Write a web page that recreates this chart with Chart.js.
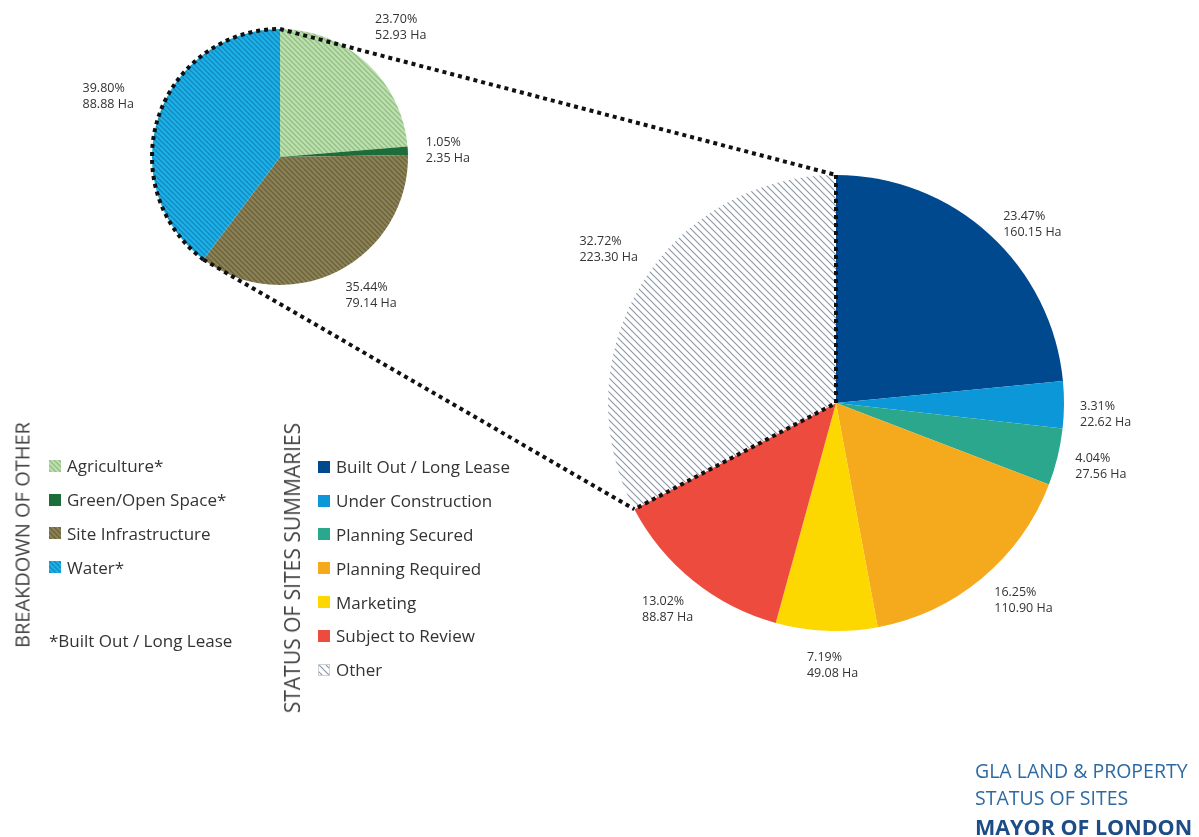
<!DOCTYPE html>
<html>
<head>
<meta charset="utf-8">
<script src="https://cdn.jsdelivr.net/npm/chart.js@4.4.1/dist/chart.umd.min.js"></script>
<style>
  body { margin: 0; background: #fff; font-family: "Open Sans", sans-serif; color: #333; }
  #page { position: relative; width: 1199px; height: 837px; overflow: hidden; }
  canvas.full { position: absolute; left: 0; top: 0; }
  .vtitle { position: absolute; transform: translate(-50%, -50%) rotate(-90deg); white-space: nowrap; font-size: 20px; color: #444; }
  .legend { position: absolute; }
  .row { display: flex; align-items: center; height: 33.8px; font-size: 17px; white-space: nowrap; }
  .row canvas { margin-right: 6px; }
  .note { position: absolute; font-size: 17px; white-space: nowrap; }
  #footer { position: absolute; left: 975px; top: 757px; font-size: 19.5px; line-height: 27px; color: #2d6aa3; white-space: nowrap; }
  #footer b { color: #1d4c86; display: block; margin-top: 2px; font-size: 21.5px; }
</style>
</head>
<body>
<div id="page">
  <canvas id="small" class="full" width="1199" height="837"></canvas>
  <canvas id="big" class="full" width="1199" height="837"></canvas>
  <div class="vtitle" style="left:22px; top:535px;">BREAKDOWN OF OTHER</div>
  <div class="vtitle" style="left:292px; top:568px; font-size:21px;">STATUS OF SITES SUMMARIES</div>
  <div class="legend" id="legOther" style="left:49px; top:449px;"></div>
  <div class="note" style="left:49px; top:629px;">*Built Out / Long Lease</div>
  <div class="legend" id="legBig" style="left:318px; top:450px;"></div>
  <div id="footer">GLA LAND &amp; PROPERTY<br>STATUS OF SITES<b>MAYOR OF LONDON</b></div>
</div>
<script>
// data
const bigLabels = ['Built Out / Long Lease', 'Under Construction', 'Planning Secured', 'Planning Required', 'Marketing', 'Subject to Review', 'Other'];
const bigValues = [160.15, 22.62, 27.56, 110.90, 49.08, 88.87, 223.30];
const otherLabels = ['Agriculture*', 'Green/Open Space*', 'Site Infrastructure', 'Water*'];
const otherValues = [52.93, 2.35, 79.14, 88.88];

Chart.defaults.font.family = '"Open Sans", sans-serif';

// diagonal hatch pattern
function hatch(bg, fg, size, lw) {
    const c = document.createElement('canvas');
    c.width = c.height = size;
    const g = c.getContext('2d');
    g.fillStyle = bg;
    g.fillRect(0, 0, size, size);
    g.strokeStyle = fg;
    g.lineWidth = lw;
    g.beginPath();
    g.moveTo(-1, -1); g.lineTo(size + 1, size + 1);
    g.moveTo(-1, size - 1); g.lineTo(1, size + 1);
    g.moveTo(size - 1, -1); g.lineTo(size + 1, 1);
    g.stroke();
    return g.createPattern(c, 'repeat');
}

const bigColors = ['#01498f', '#0b97d8', '#2ba78e', '#f5aa1d', '#fdd700', '#ee4b3f', hatch('#ffffff', '#8a97a6', 7, 1.1)];
const otherColors = [
    hatch('#bfe0ae', '#8fbf85', 5, 1.3),
    '#1d6d3b',
    hatch('#8c8254', '#6a6240', 5, 1.4),
    hatch('#1cb2e9', '#1389bd', 5, 1.3)
];

// small hand placement tweaks for the labels (pixels)
const bigNudge = [[10, 14], [-4, 9], [-1, 2], [10, -2], [8, 3], [3, 4], [10, -19]];
const otherNudge = [[3, -12], [-2, 1], [12, -4], [-7, -10]];

// percent + hectare labels around each pie
function sliceLabels(nudge) {
    return {
        id: 'sliceLabels',
        afterDatasetsDraw(chart) {
            const ctx = chart.ctx;
            const vals = chart.data.datasets[0].data;
            const total = vals.reduce((a, b) => a + b, 0);
            ctx.save();
            ctx.font = '12.5px "Open Sans", sans-serif';
            ctx.fillStyle = '#333';
            ctx.textAlign = 'left';
            ctx.textBaseline = 'middle';
            chart.getDatasetMeta(0).data.forEach((arc, i) => {
                const p = arc.getProps(['x', 'y', 'startAngle', 'endAngle', 'outerRadius'], true);
                const mid = (p.startAngle + p.endAngle) / 2;
                const l1 = (vals[i] / total * 100).toFixed(2) + '%';
                const l2 = vals[i].toFixed(2) + ' Ha';
                const w = Math.max(ctx.measureText(l1).width, ctx.measureText(l2).width);
                const h = 32;
                const cx = p.x + Math.cos(mid) * (p.outerRadius + 20 + w / 2) + nudge[i][0];
                const cy = p.y + Math.sin(mid) * (p.outerRadius + 16 + h / 2) + nudge[i][1];
                ctx.fillText(l1, cx - w / 2, cy - 8);
                ctx.fillText(l2, cx - w / 2, cy + 8);
            });
            ctx.restore();
        }
    };
}

const smallChart = new Chart(document.getElementById('small'), {
    type: 'pie',
    data: {
        labels: otherLabels,
        datasets: [{ data: otherValues, backgroundColor: otherColors, borderWidth: 0 }]
    },
    options: {
        responsive: false,
        animation: false,
        layout: { padding: { left: 152, top: 29, right: 791, bottom: 552 } },
        plugins: { legend: { display: false }, tooltip: { enabled: false } },
        events: []
    },
    plugins: [sliceLabels(otherNudge)]
});

// dotted zoom connectors between "Other" and the breakdown pie
const connectors = {
    id: 'connectors',
    afterDraw(chart) {
        const ctx = chart.ctx;
        const o = chart.getDatasetMeta(0).data[6].getProps(['x', 'y', 'startAngle', 'endAngle', 'outerRadius'], true);
        const w = smallChart.getDatasetMeta(0).data[3].getProps(['x', 'y', 'startAngle', 'endAngle', 'outerRadius'], true);
        const pt = (a, ang) => [a.x + Math.cos(ang) * a.outerRadius, a.y + Math.sin(ang) * a.outerRadius];
        const oS = pt(o, o.startAngle), oE = pt(o, o.endAngle);
        const wS = pt(w, w.startAngle), wE = pt(w, w.endAngle);
        ctx.save();
        ctx.strokeStyle = '#111';
        ctx.lineWidth = 4;
        ctx.setLineDash([4, 4]);
        ctx.beginPath();
        ctx.arc(w.x, w.y, w.outerRadius, w.startAngle, w.endAngle);
        ctx.stroke();
        ctx.beginPath();
        ctx.moveTo(wE[0], wE[1]); ctx.lineTo(oE[0], oE[1]);
        ctx.moveTo(wS[0], wS[1]); ctx.lineTo(oS[0], oS[1]);
        ctx.stroke();
        ctx.beginPath();
        ctx.moveTo(oE[0], oE[1]); ctx.lineTo(o.x, o.y); ctx.lineTo(oS[0], oS[1]);
        ctx.stroke();
        ctx.restore();
    }
};

const bigChart = new Chart(document.getElementById('big'), {
    type: 'pie',
    data: {
        labels: bigLabels,
        datasets: [{ data: bigValues, backgroundColor: bigColors, borderWidth: 0 }]
    },
    options: {
        responsive: false,
        animation: false,
        layout: { padding: { left: 608, top: 175, right: 135, bottom: 206 } },
        plugins: { legend: { display: false }, tooltip: { enabled: false } },
        events: []
    },
    plugins: [sliceLabels(bigNudge), connectors]
});

// html legends built from the chart data
function buildLegend(el, labels, colors) {
    labels.forEach((lab, i) => {
        const row = document.createElement('div');
        row.className = 'row';
        const sw = document.createElement('canvas');
        sw.width = sw.height = 12;
        const g = sw.getContext('2d');
        g.fillStyle = colors[i];
        g.fillRect(0, 0, 12, 12);
        if (lab === 'Other') {
            g.strokeStyle = '#c8d0d8';
            g.strokeRect(0.5, 0.5, 11, 11);
        }
        row.appendChild(sw);
        row.appendChild(document.createTextNode(lab));
        el.appendChild(row);
    });
}
buildLegend(document.getElementById('legOther'), otherLabels, otherColors);
buildLegend(document.getElementById('legBig'), bigLabels, bigColors);
</script>
</body>
</html>
